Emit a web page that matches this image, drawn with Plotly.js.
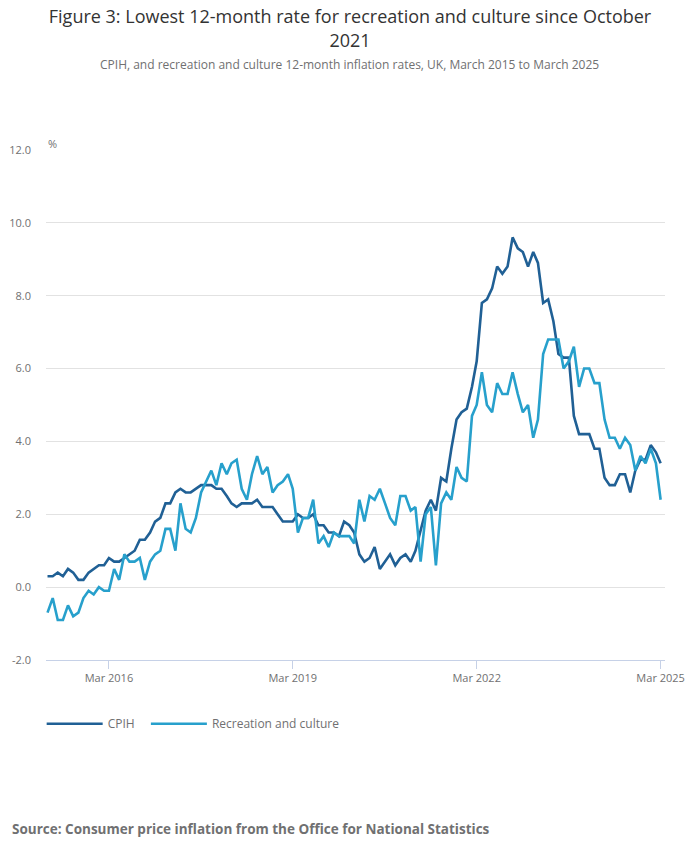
<!DOCTYPE html>
<html>
<head>
<meta charset="utf-8">
<script src="https://cdn.plot.ly/plotly-3.0.1.min.js"></script>
<style>
  html, body { margin: 0; padding: 0; background: #fff; }
  #chart { width: 700px; height: 857px; }
</style>
</head>
<body>
<div id="chart"></div>
<script>
'use strict'

// Monthly 12-month rates, March 2015 to March 2025 (121 months)
const startYear = 2015;
const startMonth = 3;
const monthCount = 121;

const cpih = [
  0.3, 0.3, 0.4, 0.3, 0.5, 0.4, 0.2, 0.2, 0.4, 0.5,
  0.6, 0.6, 0.8, 0.7, 0.7, 0.8, 0.9, 1.0, 1.3, 1.3, 1.5, 1.8,
  1.9, 2.3, 2.3, 2.6, 2.7, 2.6, 2.6, 2.7, 2.8, 2.8, 2.8, 2.7,
  2.7, 2.5, 2.3, 2.2, 2.3, 2.3, 2.3, 2.4, 2.2, 2.2, 2.2, 2.0,
  1.8, 1.8, 1.8, 2.0, 1.9, 1.9, 2.0, 1.7, 1.7, 1.5, 1.5, 1.4,
  1.8, 1.7, 1.5, 0.9, 0.7, 0.8, 1.1, 0.5, 0.7, 0.9, 0.6, 0.8,
  0.9, 0.7, 1.0, 1.6, 2.1, 2.4, 2.1, 3.0, 2.9, 3.8, 4.6, 4.8,
  4.9, 5.5, 6.2, 7.8, 7.9, 8.2, 8.8, 8.6, 8.8, 9.6, 9.3, 9.2,
  8.8, 9.2, 8.9, 7.8, 7.9, 7.3, 6.4, 6.3, 6.3, 4.7, 4.2, 4.2,
  4.2, 3.8, 3.8, 3.0, 2.8, 2.8, 3.1, 3.1, 2.6, 3.2, 3.5, 3.5,
  3.9, 3.7, 3.4
];

const recreation = [
  -0.7, -0.3, -0.9, -0.9, -0.5, -0.8, -0.7, -0.3, -0.1, -0.2,
  0.0, -0.1, -0.1, 0.5, 0.2, 0.9, 0.7, 0.7, 0.8, 0.2, 0.7, 0.9,
  1.0, 1.6, 1.6, 1.0, 2.3, 1.6, 1.5, 1.9, 2.6, 2.9, 3.2, 2.8,
  3.4, 3.1, 3.4, 3.5, 2.7, 2.4, 3.1, 3.6, 3.1, 3.3, 2.6, 2.8,
  2.9, 3.1, 2.7, 1.5, 1.9, 1.9, 2.4, 1.2, 1.4, 1.1, 1.5, 1.4,
  1.4, 1.4, 1.2, 2.4, 1.8, 2.5, 2.4, 2.7, 2.3, 1.9, 1.7, 2.5,
  2.5, 2.1, 2.2, 0.7, 2.0, 2.2, 0.6, 2.3, 2.6, 2.4, 3.3, 3.0,
  2.9, 4.7, 5.0, 5.9, 5.0, 4.8, 5.6, 5.3, 5.3, 5.9, 5.3, 4.8,
  5.0, 4.1, 4.6, 6.4, 6.8, 6.8, 6.8, 6.0, 6.2, 6.6, 5.5, 6.0,
  6.0, 5.6, 5.6, 4.6, 4.1, 4.1, 3.8, 4.1, 3.9, 3.2, 3.6, 3.4,
  3.8, 3.4, 2.4
];

const tickDates = ['2016-03-01', '2019-03-01', '2022-03-01', '2025-03-01'];
const tickLabels = ['Mar 2016', 'Mar 2019', 'Mar 2022', 'Mar 2025'];
const yTicks = [-2, 0, 2, 4, 6, 8, 10, 12];
const yTickLabels = ['-2.0', '0.0', '2.0', '4.0', '6.0', '8.0', '10.0', '12.0'];

// month dates for the x axis
let months = [];
for (let i = 0; i < monthCount; i++) {
    let m = startMonth - 1 + i;
    let y = startYear + Math.floor(m / 12);
    let mm = (m % 12) + 1;
    months.push(`${y}-${mm < 10 ? '0' + mm : mm}-01`);
}

const grey = '#707071';
const axisBlue = '#c6d1e7';

let cpihTrace = {
    x: months,
    y: cpih,
    mode: 'lines',
    // trailing spaces widen the gap before the next legend entry
    name: 'CPIH&nbsp;&nbsp;',
    line: { color: '#206095', width: 2.6 },
    type: 'scatter'
};

let recTrace = {
    x: months,
    y: recreation,
    mode: 'lines',
    name: 'Recreation and culture',
    line: { color: '#27a0cc', width: 2.6 },
    type: 'scatter'
};

const layout = {
    width: 700,
    height: 857,
    margin: { l: 46, r: 35, t: 150, b: 197, autoexpand: false },
    paper_bgcolor: '#ffffff',
    plot_bgcolor: '#ffffff',
    font: { family: '"Open Sans", sans-serif', color: grey, size: 11 },
    title: {
        text: 'Figure 3: Lowest 12-month rate for recreation and culture since October<br>2021',
        font: { family: '"Open Sans", sans-serif', size: 18, color: '#333333' },
        x: 0.5,
        xref: 'container',
        xanchor: 'center',
        y: 0.973,
        yref: 'container',
        yanchor: 'top'
    },
    xaxis: {
        type: 'date',
        range: ['2015-02-20', '2025-03-27'],
        fixedrange: true,
        showgrid: false,
        zeroline: false,
        showline: true,
        linecolor: axisBlue,
        linewidth: 1,
        ticks: 'outside',
        ticklen: 8,
        tickcolor: axisBlue,
        tickvals: tickDates,
        ticktext: tickLabels,
        tickfont: { size: 11, color: grey }
    },
    yaxis: {
        range: [-2, 12],
        fixedrange: true,
        tickvals: yTicks,
        ticktext: yTickLabels,
        showgrid: true,
        gridcolor: '#e2e2e2',
        gridwidth: 1,
        zeroline: false,
        showline: false,
        ticks: '',
        ticklabelstandoff: 14,
        tickfont: { size: 11, color: grey }
    },
    showlegend: true,
    legend: {
        orientation: 'h',
        x: -0.007,
        xanchor: 'left',
        y: -0.125,
        yanchor: 'middle',
        itemwidth: 56,
        font: { size: 12, color: grey },
        traceorder: 'normal'
    },
    annotations: [
        {
            text: 'CPIH, and recreation and culture 12-month inflation rates, UK, March 2015 to March 2025',
            xref: 'paper', yref: 'paper',
            x: 0.4911, y: 1.1686,
            xanchor: 'center', yanchor: 'middle',
            showarrow: false,
            font: { size: 12, color: grey }
        },
        {
            text: '%',
            xref: 'paper', yref: 'paper',
            x: 0.0, y: 1.0137,
            xanchor: 'left', yanchor: 'middle',
            showarrow: false,
            font: { size: 11, color: grey }
        },
        {
            text: '<b>Source: Consumer price inflation from the Office for National Statistics</b>',
            xref: 'paper', yref: 'paper',
            x: -0.0582, y: -0.3314,
            xanchor: 'left', yanchor: 'middle',
            showarrow: false,
            font: { size: 13.5, color: grey }
        }
    ]
};

const config = { displayModeBar: false, staticPlot: true };

Plotly.newPlot('chart', [cpihTrace, recTrace], layout, config);
</script>
</body>
</html>
